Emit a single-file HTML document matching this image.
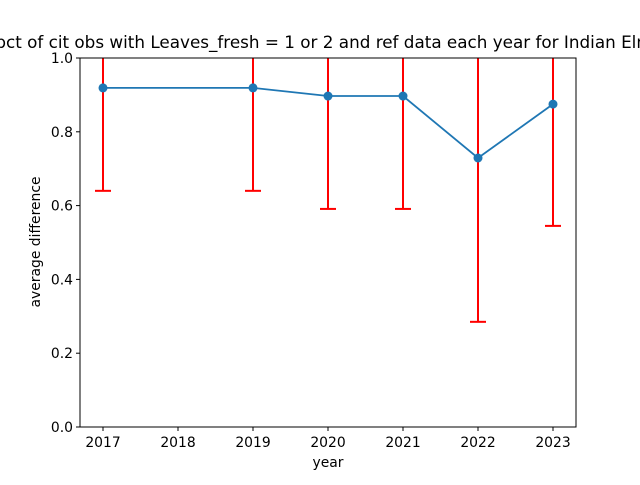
<!DOCTYPE html>
<html><head><meta charset="utf-8"><style>
body{margin:0;background:#fff;width:640px;height:480px;overflow:hidden}
svg{font-family:"DejaVu Sans","Liberation Sans",sans-serif}
</style></head><body>
<svg id="chart" width="640" height="480">
<text x="324" y="48" font-size="16.8" text-anchor="middle">pct of cit obs with Leaves_fresh = 1 or 2 and ref data each year for Indian Elm</text>
<g id="marks"></g>
<rect x="80" y="58" width="496" height="369" fill="none" stroke="#000" stroke-width="1"/>
<g id="axes" font-size="13.9"></g>
<text x="328" y="467" font-size="13.9" text-anchor="middle">year</text>
<text x="40" y="242" font-size="13.9" text-anchor="middle" transform="rotate(-90 40 242)">average difference</text>
</svg>
<script>
const years=[2017,2019,2020,2021,2022,2023];
const values=[0.919,0.919,0.897,0.897,0.729,0.875];
const errors=[0.279,0.279,0.306,0.306,0.444,0.330];
const xTicks=[2017,2018,2019,2020,2021,2022,2023];
const yTicks=[0,0.2,0.4,0.6,0.8,1.0];
const NS="http://www.w3.org/2000/svg";
const X=v=>103+(v-2017)*75;
const Y=v=>427-v*369;
function mk(t,a,p){const e=document.createElementNS(NS,t);for(const k in a)e.setAttribute(k,a[k]);p.appendChild(e);return e;}
const marks=document.getElementById('marks');
const clip=mk('clipPath',{id:'c'},marks);mk('rect',{x:80,y:58,width:496,height:369},clip);
const g=mk('g',{'clip-path':'url(#c)'},marks);
years.forEach((yr,i)=>{
 const x=X(yr),lo=Y(values[i]-errors[i]),hi=Y(values[i]+errors[i]);
 const l=mk('line',{x1:x,x2:x,y1:lo,y2:hi,stroke:'#ff0000','stroke-width':2},g);
 
 
 const c1=mk('line',{x1:x-8,x2:x+8,y1:lo,y2:lo,stroke:'#ff0000','stroke-width':2},g);
 
 
 const c2=mk('line',{x1:x-8,x2:x+8,y1:hi,y2:hi,stroke:'#ff0000','stroke-width':2},g);
 
 
});
const pl=mk('polyline',{points:years.map((yr,i)=>X(yr)+','+Y(values[i])).join(' '),fill:'none',stroke:'#1f77b4','stroke-width':1.8},g);


years.forEach((yr,i)=>{
 const c=mk('circle',{cx:X(yr),cy:Y(values[i]),r:4.5,fill:'#1f77b4'},g);
 
 
});
const ax=document.getElementById('axes');
xTicks.forEach(t=>{
 const x=X(t);
 mk('line',{x1:x,x2:x,y1:427,y2:431,stroke:'#000'},ax);
 const tx=mk('text',{x:x,y:447,'text-anchor':'middle'},ax);tx.textContent=t;
 
 
});
yTicks.forEach(t=>{
 const y=Y(t);
 mk('line',{x1:76,x2:80,y1:y,y2:y,stroke:'#000'},ax);
 const tx=mk('text',{x:73,y:y+5,'text-anchor':'end'},ax);tx.textContent=t.toFixed(1);
 
 
});
</script>
</body></html>
